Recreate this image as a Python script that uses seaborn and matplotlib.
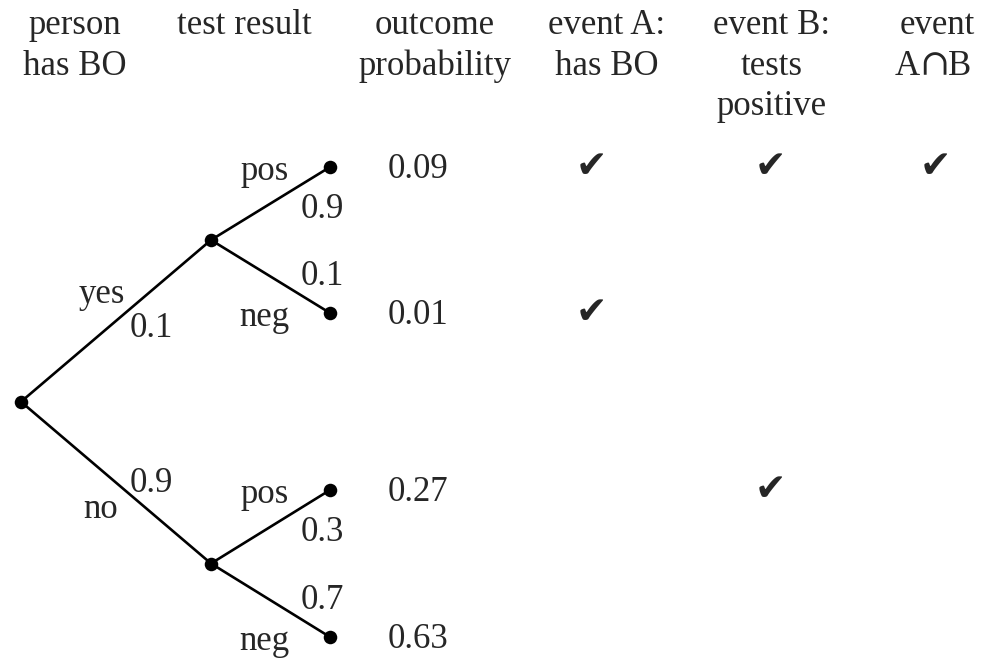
import matplotlib
matplotlib.use("Agg")
import matplotlib.pyplot as plt
import seaborn as sns
import pandas as pd

# Tree data
first_labels = ["yes", "no"]
first_probs = [0.1, 0.9]
second_labels = ["pos", "neg"]
second_probs = [[0.9, 0.1], [0.3, 0.7]]
outcome_probs = [0.09, 0.01, 0.27, 0.63]
event_a = [True, True, False, False]
event_b = [True, False, True, False]
event_ab = [True, False, False, False]

headers = [
    ["person", "has BO"],
    ["test result"],
    ["outcome", "probability"],
    ["event A:", "has BO"],
    ["event B:", "tests", "positive"],
    ["event", None],  # second line (A∩B) drawn separately
]

sns.set_style("white")
plt.rcParams["font.family"] = ["Liberation Serif", "DejaVu Sans"]

# layout (pixel space)
level_x = [21, 211, 330]
leaf_y = [167, 313, 490, 637]
mid_y = [(leaf_y[0] + leaf_y[1]) / 2, (leaf_y[2] + leaf_y[3]) / 2]
root_y = (mid_y[0] + mid_y[1]) / 2
header_x = [75, 244, 435, 607, 772, 937]
check_x = [591, 770, 935]
fs = 25

fig = plt.figure(figsize=(9.95, 6.6), dpi=100)
ax = fig.add_axes([0, 0, 1, 1])
ax.set_xlim(0, 995)
ax.set_ylim(660, 0)
ax.axis("off")

# edges
lw = 1.9
for i, my in enumerate(mid_y):
    ax.plot([level_x[0], level_x[1]], [root_y, my], color="black", lw=lw, zorder=1)
    for j in range(2):
        ly = leaf_y[2 * i + j]
        ax.plot([level_x[1], level_x[2]], [my, ly], color="black", lw=lw, zorder=1)

# nodes
nodes = pd.DataFrame({
    "x": [level_x[0]] + [level_x[1]] * 2 + [level_x[2]] * 4,
    "y": [root_y] + mid_y + leaf_y,
})
sns.scatterplot(data=nodes, x="x", y="y", color="black", s=95, edgecolor="black",
                linewidth=0, ax=ax, zorder=2)
ax.set_xlabel("")
ax.set_ylabel("")

# first level labels
ax.text(125, 303, first_labels[0], fontsize=fs, ha="right", va="baseline")
ax.text(130, 337, f"{first_probs[0]:g}", fontsize=fs, ha="left", va="baseline")
ax.text(130, 492, f"{first_probs[1]:g}", fontsize=fs, ha="left", va="baseline")
ax.text(118, 518, first_labels[1], fontsize=fs, ha="right", va="baseline")

# second level labels
for i in range(2):
    for j in range(2):
        ly = leaf_y[2 * i + j]
        ax.text(289, ly + 13, second_labels[j], fontsize=fs, ha="right", va="baseline")
        off = 51 if j == 0 else -28
        ax.text(301, ly + off, f"{second_probs[i][j]:g}", fontsize=fs,
                ha="left", va="baseline")

# outcome probabilities and checks
for k, p in enumerate(outcome_probs):
    ax.text(388, leaf_y[k] + 11, f"{p:.2f}", fontsize=fs, ha="left", va="baseline")
    for cx, flag in zip(check_x, [event_a[k], event_b[k], event_ab[k]]):
        if flag:
            ax.text(cx, leaf_y[k], "\u2714", fontsize=27,
                    ha="center", va="center", family="DejaVu Sans")

# headers
base = [34, 75, 115]
for hx, lines in zip(header_x, headers):
    for r, line in enumerate(lines):
        if line:
            ax.text(hx, base[r], line, fontsize=fs, ha="center", va="baseline")

# "A∩B" with a larger intersection sign
ax.text(920, base[1], "A", fontsize=fs, ha="right", va="baseline")
ax.text(934, base[1], "\u2229", fontsize=26, ha="center", va="baseline",
        family="DejaVu Serif")
ax.text(948, base[1], "B", fontsize=fs, ha="left", va="baseline")

fig.savefig("out.png", dpi=100)
